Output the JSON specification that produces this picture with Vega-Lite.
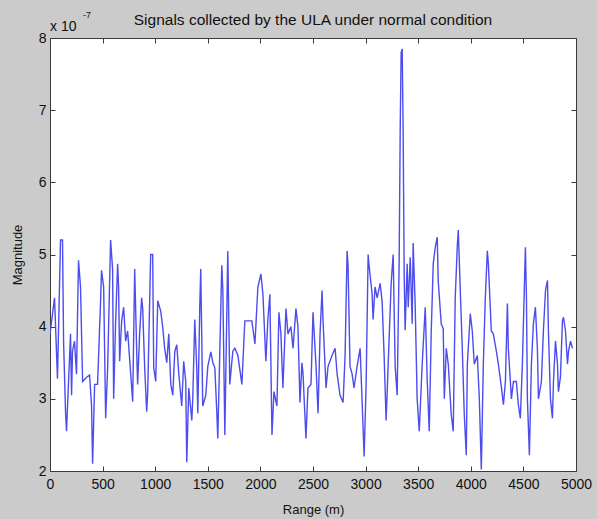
{
  "$schema": "https://vega.github.io/schema/vega-lite/v6.json",
  "width": 526,
  "height": 433,
  "autosize": {"type": "none"},
  "padding": {"left": 50, "top": 38, "right": 21, "bottom": 48},
  "background": "#cbcbcb",
  "config": {
    "font": "Liberation Sans",
    "view": {"fill": "white", "stroke": "#3a3a3a", "strokeWidth": 1},
    "axis": {
      "domain": false,
      "grid": false,
      "ticks": true,
      "tickSize": -5,
      "tickColor": "#3a3a3a",
      "labelFont": "Liberation Sans",
      "labelFontSize": 14,
      "labelColor": "#111111",
      "titleFont": "Liberation Sans",
      "titleFontSize": 13,
      "titleFontWeight": "normal",
      "titleColor": "#111111"
    }
  },
  "title": {
    "text": "Signals collected by the ULA under normal condition",
    "font": "Liberation Sans",
    "fontSize": 15.5,
    "fontWeight": "normal",
    "color": "#111111",
    "anchor": "middle",
    "frame": "group",
    "baseline": "alphabetic",
    "offset": 14,
    "dy": 43
  },
  "datasets": {
    "signal": [
      {"range": 0, "magnitude": 3.9}, {"range": 43, "magnitude": 4.4}, {"range": 71, "magnitude": 3.28},
      {"range": 100, "magnitude": 5.2}, {"range": 119, "magnitude": 5.2}, {"range": 129, "magnitude": 3.8},
      {"range": 148, "magnitude": 2.8}, {"range": 157, "magnitude": 2.55}, {"range": 195, "magnitude": 3.9},
      {"range": 205, "magnitude": 3.05}, {"range": 214, "magnitude": 3.66}, {"range": 233, "magnitude": 3.8},
      {"range": 252, "magnitude": 3.34}, {"range": 271, "magnitude": 4.92}, {"range": 290, "magnitude": 4.55},
      {"range": 310, "magnitude": 3.24}, {"range": 348, "magnitude": 3.3}, {"range": 376, "magnitude": 3.33},
      {"range": 395, "magnitude": 2.9}, {"range": 405, "magnitude": 2.1}, {"range": 424, "magnitude": 3.2},
      {"range": 452, "magnitude": 3.2}, {"range": 481, "magnitude": 4.36}, {"range": 490, "magnitude": 4.78},
      {"range": 510, "magnitude": 4.55}, {"range": 529, "magnitude": 2.73}, {"range": 548, "magnitude": 3.43},
      {"range": 576, "magnitude": 5.2}, {"range": 595, "magnitude": 4.8}, {"range": 605, "magnitude": 3.0},
      {"range": 624, "magnitude": 4.08}, {"range": 643, "magnitude": 4.87}, {"range": 652, "magnitude": 4.55},
      {"range": 662, "magnitude": 3.52}, {"range": 681, "magnitude": 4.08}, {"range": 700, "magnitude": 4.27},
      {"range": 719, "magnitude": 3.8}, {"range": 738, "magnitude": 3.94}, {"range": 757, "magnitude": 3.55},
      {"range": 786, "magnitude": 2.96}, {"range": 805, "magnitude": 4.8}, {"range": 824, "magnitude": 3.66},
      {"range": 833, "magnitude": 3.2}, {"range": 852, "magnitude": 3.9}, {"range": 871, "magnitude": 4.4},
      {"range": 881, "magnitude": 4.25}, {"range": 900, "magnitude": 3.43}, {"range": 919, "magnitude": 2.82},
      {"range": 929, "magnitude": 3.1}, {"range": 957, "magnitude": 5.0}, {"range": 976, "magnitude": 5.0},
      {"range": 986, "magnitude": 3.43}, {"range": 1005, "magnitude": 3.24}, {"range": 1024, "magnitude": 4.36},
      {"range": 1052, "magnitude": 4.22}, {"range": 1071, "magnitude": 4.0}, {"range": 1090, "magnitude": 3.7},
      {"range": 1110, "magnitude": 3.5}, {"range": 1129, "magnitude": 3.9}, {"range": 1148, "magnitude": 3.2},
      {"range": 1167, "magnitude": 3.05}, {"range": 1186, "magnitude": 3.65}, {"range": 1205, "magnitude": 3.75},
      {"range": 1224, "magnitude": 3.35}, {"range": 1252, "magnitude": 2.9}, {"range": 1271, "magnitude": 3.52},
      {"range": 1290, "magnitude": 3.24}, {"range": 1300, "magnitude": 2.12}, {"range": 1319, "magnitude": 3.15},
      {"range": 1348, "magnitude": 2.7}, {"range": 1357, "magnitude": 3.0}, {"range": 1376, "magnitude": 4.1},
      {"range": 1395, "magnitude": 3.43}, {"range": 1405, "magnitude": 2.8}, {"range": 1424, "magnitude": 4.3},
      {"range": 1433, "magnitude": 4.8}, {"range": 1452, "magnitude": 2.9}, {"range": 1481, "magnitude": 3.05},
      {"range": 1500, "magnitude": 3.45}, {"range": 1529, "magnitude": 3.65}, {"range": 1548, "magnitude": 3.5},
      {"range": 1567, "magnitude": 3.43}, {"range": 1586, "magnitude": 2.8}, {"range": 1595, "magnitude": 2.45},
      {"range": 1614, "magnitude": 3.65}, {"range": 1633, "magnitude": 4.85}, {"range": 1643, "magnitude": 4.5},
      {"range": 1662, "magnitude": 2.5}, {"range": 1690, "magnitude": 5.05}, {"range": 1709, "magnitude": 3.2},
      {"range": 1738, "magnitude": 3.66}, {"range": 1757, "magnitude": 3.7}, {"range": 1786, "magnitude": 3.6},
      {"range": 1824, "magnitude": 3.2}, {"range": 1852, "magnitude": 4.08}, {"range": 1881, "magnitude": 4.08},
      {"range": 1919, "magnitude": 4.08}, {"range": 1948, "magnitude": 3.76}, {"range": 1976, "magnitude": 4.55},
      {"range": 2005, "magnitude": 4.73}, {"range": 2024, "magnitude": 4.45}, {"range": 2052, "magnitude": 3.52},
      {"range": 2071, "magnitude": 4.1}, {"range": 2090, "magnitude": 4.45}, {"range": 2110, "magnitude": 2.5},
      {"range": 2129, "magnitude": 3.1}, {"range": 2157, "magnitude": 2.9}, {"range": 2176, "magnitude": 4.2},
      {"range": 2195, "magnitude": 3.9}, {"range": 2214, "magnitude": 3.15}, {"range": 2243, "magnitude": 4.25},
      {"range": 2262, "magnitude": 3.9}, {"range": 2290, "magnitude": 4.0}, {"range": 2310, "magnitude": 3.7},
      {"range": 2338, "magnitude": 4.25}, {"range": 2357, "magnitude": 4.0}, {"range": 2376, "magnitude": 2.95},
      {"range": 2395, "magnitude": 3.5}, {"range": 2405, "magnitude": 3.35}, {"range": 2433, "magnitude": 2.45},
      {"range": 2452, "magnitude": 3.15}, {"range": 2481, "magnitude": 3.2}, {"range": 2500, "magnitude": 4.2},
      {"range": 2529, "magnitude": 3.45}, {"range": 2548, "magnitude": 2.8}, {"range": 2567, "magnitude": 3.9},
      {"range": 2586, "magnitude": 4.5}, {"range": 2595, "magnitude": 4.1}, {"range": 2624, "magnitude": 3.15},
      {"range": 2643, "magnitude": 3.45}, {"range": 2681, "magnitude": 3.6}, {"range": 2710, "magnitude": 3.7},
      {"range": 2729, "magnitude": 3.35}, {"range": 2757, "magnitude": 3.05}, {"range": 2786, "magnitude": 2.95},
      {"range": 2805, "magnitude": 3.6}, {"range": 2824, "magnitude": 5.05}, {"range": 2833, "magnitude": 4.85},
      {"range": 2852, "magnitude": 3.45}, {"range": 2871, "magnitude": 3.35}, {"range": 2890, "magnitude": 3.15},
      {"range": 2919, "magnitude": 3.45}, {"range": 2948, "magnitude": 3.7}, {"range": 2976, "magnitude": 2.6},
      {"range": 2986, "magnitude": 2.2}, {"range": 3005, "magnitude": 3.2}, {"range": 3024, "magnitude": 5.0},
      {"range": 3033, "magnitude": 4.85}, {"range": 3062, "magnitude": 4.45}, {"range": 3071, "magnitude": 4.1},
      {"range": 3090, "magnitude": 4.55}, {"range": 3110, "magnitude": 4.4}, {"range": 3138, "magnitude": 4.6},
      {"range": 3157, "magnitude": 4.35}, {"range": 3176, "magnitude": 3.6}, {"range": 3195, "magnitude": 2.7},
      {"range": 3214, "magnitude": 3.45}, {"range": 3243, "magnitude": 4.6}, {"range": 3262, "magnitude": 5.0},
      {"range": 3281, "magnitude": 3.45}, {"range": 3300, "magnitude": 3.05}, {"range": 3319, "magnitude": 4.9},
      {"range": 3329, "magnitude": 6.75}, {"range": 3338, "magnitude": 7.8}, {"range": 3348, "magnitude": 7.85},
      {"range": 3357, "magnitude": 6.7}, {"range": 3367, "magnitude": 4.7}, {"range": 3376, "magnitude": 3.95},
      {"range": 3395, "magnitude": 4.87}, {"range": 3405, "magnitude": 4.27}, {"range": 3424, "magnitude": 4.96},
      {"range": 3443, "magnitude": 4.04}, {"range": 3452, "magnitude": 5.16}, {"range": 3471, "magnitude": 4.32},
      {"range": 3490, "magnitude": 3.0}, {"range": 3510, "magnitude": 2.55}, {"range": 3538, "magnitude": 3.48},
      {"range": 3567, "magnitude": 4.27}, {"range": 3586, "magnitude": 3.24}, {"range": 3605, "magnitude": 2.55},
      {"range": 3624, "magnitude": 3.94}, {"range": 3643, "magnitude": 4.87}, {"range": 3662, "magnitude": 5.1},
      {"range": 3681, "magnitude": 5.24}, {"range": 3690, "magnitude": 4.64}, {"range": 3719, "magnitude": 4.04},
      {"range": 3738, "magnitude": 3.97}, {"range": 3748, "magnitude": 3.0}, {"range": 3767, "magnitude": 3.7},
      {"range": 3786, "magnitude": 3.48}, {"range": 3814, "magnitude": 2.78}, {"range": 3833, "magnitude": 2.55},
      {"range": 3852, "magnitude": 4.4}, {"range": 3871, "magnitude": 5.1}, {"range": 3881, "magnitude": 5.34},
      {"range": 3900, "magnitude": 4.5}, {"range": 3919, "magnitude": 3.7}, {"range": 3938, "magnitude": 2.78},
      {"range": 3957, "magnitude": 2.22}, {"range": 3967, "magnitude": 3.48}, {"range": 3995, "magnitude": 4.18},
      {"range": 4014, "magnitude": 3.94}, {"range": 4033, "magnitude": 3.48}, {"range": 4062, "magnitude": 3.6},
      {"range": 4081, "magnitude": 3.0}, {"range": 4100, "magnitude": 2.02}, {"range": 4119, "magnitude": 3.48},
      {"range": 4138, "magnitude": 4.4}, {"range": 4157, "magnitude": 5.05}, {"range": 4167, "magnitude": 4.87},
      {"range": 4195, "magnitude": 3.94}, {"range": 4214, "magnitude": 3.9}, {"range": 4243, "magnitude": 3.66},
      {"range": 4262, "magnitude": 3.48}, {"range": 4291, "magnitude": 3.16}, {"range": 4310, "magnitude": 2.92},
      {"range": 4329, "magnitude": 3.24}, {"range": 4348, "magnitude": 4.32}, {"range": 4357, "magnitude": 3.7},
      {"range": 4386, "magnitude": 3.0}, {"range": 4405, "magnitude": 3.24}, {"range": 4433, "magnitude": 3.24},
      {"range": 4452, "magnitude": 2.92}, {"range": 4471, "magnitude": 2.73}, {"range": 4490, "magnitude": 3.48},
      {"range": 4510, "magnitude": 4.6}, {"range": 4519, "magnitude": 5.1}, {"range": 4529, "magnitude": 4.4},
      {"range": 4538, "magnitude": 3.0}, {"range": 4557, "magnitude": 2.22}, {"range": 4576, "magnitude": 3.48},
      {"range": 4595, "magnitude": 4.04}, {"range": 4614, "magnitude": 4.27}, {"range": 4633, "magnitude": 3.7},
      {"range": 4643, "magnitude": 3.0}, {"range": 4671, "magnitude": 3.24}, {"range": 4690, "magnitude": 3.94},
      {"range": 4710, "magnitude": 4.5}, {"range": 4729, "magnitude": 4.64}, {"range": 4738, "magnitude": 3.94},
      {"range": 4757, "magnitude": 3.0}, {"range": 4776, "magnitude": 2.73}, {"range": 4786, "magnitude": 3.24},
      {"range": 4805, "magnitude": 3.8}, {"range": 4824, "magnitude": 3.48}, {"range": 4833, "magnitude": 3.1},
      {"range": 4852, "magnitude": 3.3}, {"range": 4871, "magnitude": 4.08}, {"range": 4881, "magnitude": 4.13},
      {"range": 4900, "magnitude": 3.94}, {"range": 4919, "magnitude": 3.48}, {"range": 4929, "magnitude": 3.66},
      {"range": 4948, "magnitude": 3.8}, {"range": 4967, "magnitude": 3.7}
    ],
    "exponent": [
      {"range": 0, "magnitude": 8, "base": "x 10", "power": "-7"}
    ]
  },
  "resolve": {"axis": {"x": "independent", "y": "independent"}},
  "layer": [
    {
      "data": {"name": "signal"},
      "mark": {"type": "line", "color": "#4c4cef", "strokeWidth": 1.4, "clip": true},
      "encoding": {
        "x": {
          "field": "range", "type": "quantitative",
          "scale": {"domain": [0, 5000], "nice": false, "zero": false},
          "axis": {"orient": "bottom", "format": "d", "values": [0, 500, 1000, 1500, 2000, 2500, 3000, 3500, 4000, 4500, 5000], "labelPadding": 11, "title": "Range (m)", "titleY": 38, "titleBaseline": "middle", "labelFlush": false}
        },
        "y": {
          "field": "magnitude", "type": "quantitative",
          "scale": {"domain": [2, 8], "nice": false, "zero": false},
          "axis": {"orient": "left", "format": "d", "values": [2, 3, 4, 5, 6, 7, 8], "labelPadding": 9, "title": "Magnitude", "titleX": -33, "titleBaseline": "middle", "labelFlush": false}
        }
      }
    },
    {
      "data": {"name": "signal"},
      "mark": {"type": "line", "opacity": 0},
      "encoding": {
        "x": {"field": "range", "type": "quantitative", "axis": {"orient": "top", "values": [0, 500, 1000, 1500, 2000, 2500, 3000, 3500, 4000, 4500, 5000], "labels": false, "title": null}},
        "y": {"field": "magnitude", "type": "quantitative", "axis": {"orient": "right", "values": [2, 3, 4, 5, 6, 7, 8], "labels": false, "title": null}}
      }
    },
    {
      "data": {"name": "exponent"},
      "mark": {"type": "text", "align": "left", "baseline": "alphabetic", "dy": -7, "fontSize": 14, "font": "Liberation Sans", "color": "#111111"},
      "encoding": {
        "x": {"field": "range", "type": "quantitative", "axis": null},
        "y": {"field": "magnitude", "type": "quantitative", "axis": null},
        "text": {"field": "base"}
      }
    },
    {
      "data": {"name": "exponent"},
      "mark": {"type": "text", "align": "left", "baseline": "alphabetic", "dx": 33, "dy": -20, "fontSize": 9, "font": "Liberation Sans", "color": "#111111"},
      "encoding": {
        "x": {"field": "range", "type": "quantitative", "axis": null},
        "y": {"field": "magnitude", "type": "quantitative", "axis": null},
        "text": {"field": "power"}
      }
    }
  ]
}
